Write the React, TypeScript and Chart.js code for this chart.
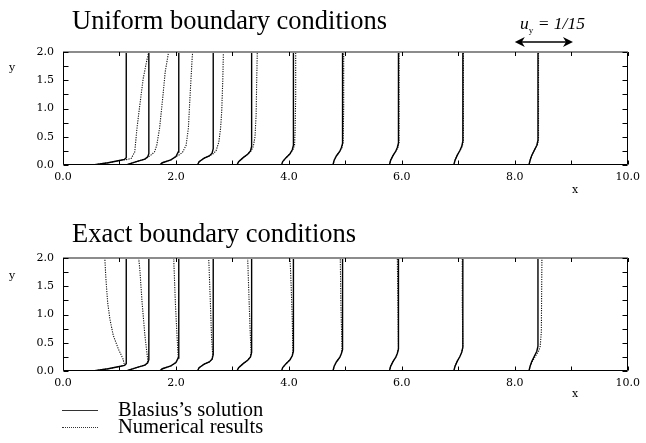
import React, { useEffect, useRef } from "react";
import { Chart, registerables } from "chart.js";
Chart.register(...registerables);

// ---- axes ----
const xLabelTicks = [0, 2, 4, 6, 8, 10];
const yLabelTicks = [0, 0.5, 1.0, 1.5, 2.0];
const xMinorTicks = [0, 1, 2, 3, 4, 5, 6, 7, 8, 9, 10];
const yMinorTicks = [0, 0.25, 0.5, 0.75, 1.0, 1.25, 1.5, 1.75, 2.0];
const arrowSpan = [8.0, 9.03];

// ---- Blasius's solution (solid), [x, y] ----
const blasius1 = [[0.53, 0], [0.8, 0.04], [1.0, 0.08], [1.09, 0.1], [1.12, 0.13], [1.12, 2.0]];
const blasius2 = [[1.12, 0], [1.3, 0.06], [1.45, 0.105], [1.5, 0.145], [1.52, 0.2], [1.52, 2.0]];
const blasius3 = [[1.71, 0], [1.76, 0.04], [1.91, 0.09], [2.0, 0.15], [2.04, 0.23], [2.05, 2.0]];
const blasius4 = [[2.38, 0], [2.41, 0.06], [2.5, 0.12], [2.59, 0.16], [2.64, 0.21], [2.66, 0.29], [2.66, 2.0]];
const blasius5 = [[3.08, 0], [3.11, 0.06], [3.19, 0.13], [3.27, 0.19], [3.32, 0.25], [3.34, 0.33], [3.34, 2.0]];
const blasius6 = [[3.87, 0], [3.89, 0.06], [3.95, 0.13], [4.02, 0.2], [4.06, 0.27], [4.08, 0.35], [4.08, 2.0]];
const blasius7 = [[4.78, 0], [4.8, 0.08], [4.84, 0.16], [4.9, 0.24], [4.93, 0.31], [4.95, 0.38], [4.95, 2.0]];
const blasius8 = [[5.78, 0], [5.8, 0.08], [5.84, 0.16], [5.89, 0.24], [5.92, 0.31], [5.94, 0.39], [5.94, 2.0]];
const blasius9 = [[6.92, 0], [6.94, 0.08], [6.98, 0.17], [7.03, 0.26], [7.06, 0.33], [7.08, 0.42], [7.08, 2.0]];
const blasius10 = [[8.25, 0], [8.27, 0.08], [8.3, 0.17], [8.35, 0.27], [8.39, 0.35], [8.41, 0.44], [8.41, 2.0]];

// ---- Numerical results, uniform boundary conditions (dotted) ----
const uniform1 = [[0.53, 0], [0.8, 0.04], [1.0, 0.08], [1.15, 0.1], [1.21, 0.12], [1.27, 0.23], [1.31, 0.65], [1.36, 1.06], [1.42, 1.53], [1.49, 1.88], [1.52, 2.0]];
const uniform2 = [[1.12, 0], [1.3, 0.06], [1.45, 0.105], [1.52, 0.15], [1.56, 0.18], [1.62, 0.23], [1.66, 0.35], [1.71, 0.65], [1.77, 1.23], [1.81, 1.65], [1.86, 1.94], [1.87, 2.0]];
const uniform3 = [[1.71, 0], [1.76, 0.04], [1.91, 0.09], [2.0, 0.15], [2.06, 0.18], [2.12, 0.23], [2.18, 0.35], [2.22, 0.65], [2.25, 1.23], [2.29, 1.94], [2.3, 2.0]];
const uniform4 = [[2.38, 0], [2.41, 0.06], [2.5, 0.12], [2.59, 0.16], [2.66, 0.2], [2.71, 0.25], [2.76, 0.41], [2.79, 0.65], [2.81, 0.94], [2.83, 1.53], [2.84, 2.0]];
const uniform5 = [[3.08, 0], [3.11, 0.06], [3.19, 0.13], [3.27, 0.19], [3.33, 0.25], [3.37, 0.33], [3.4, 0.5], [3.42, 0.9], [3.43, 1.5], [3.44, 2.0]];
const uniform6 = [[3.87, 0], [3.89, 0.06], [3.95, 0.13], [4.02, 0.2], [4.07, 0.27], [4.1, 0.35], [4.11, 0.6], [4.12, 1.2], [4.12, 2.0]];
const uniform7 = [[4.78, 0], [4.8, 0.08], [4.84, 0.16], [4.9, 0.24], [4.94, 0.31], [4.96, 0.4], [4.97, 1.0], [4.97, 2.0]];
const uniform8 = [[5.78, 0], [5.8, 0.08], [5.84, 0.16], [5.89, 0.24], [5.93, 0.31], [5.95, 0.4], [5.95, 2.0]];
const uniform9 = [[6.92, 0], [6.94, 0.08], [6.98, 0.17], [7.03, 0.26], [7.07, 0.33], [7.09, 0.43], [7.09, 2.0]];
const uniform10 = [[8.25, 0], [8.27, 0.08], [8.3, 0.17], [8.35, 0.27], [8.4, 0.35], [8.42, 0.45], [8.42, 2.0]];

// ---- Numerical results, exact boundary conditions (dotted) ----
const exact1 = [[0.53, 0], [0.8, 0.04], [1.0, 0.08], [1.09, 0.1], [1.06, 0.22], [0.98, 0.39], [0.89, 0.63], [0.83, 0.92], [0.79, 1.22], [0.76, 1.63], [0.74, 2.0]];
const exact2 = [[1.12, 0], [1.3, 0.06], [1.45, 0.105], [1.5, 0.145], [1.5, 0.2], [1.45, 0.63], [1.4, 1.22], [1.36, 1.8], [1.34, 2.0]];
const exact3 = [[1.71, 0], [1.76, 0.04], [1.91, 0.09], [2.0, 0.15], [2.04, 0.23], [2.02, 0.6], [1.99, 1.2], [1.96, 2.0]];
const exact4 = [[2.38, 0], [2.41, 0.06], [2.5, 0.12], [2.59, 0.16], [2.64, 0.21], [2.65, 0.29], [2.63, 0.6], [2.61, 1.2], [2.58, 2.0]];
const exact5 = [[3.08, 0], [3.11, 0.06], [3.19, 0.13], [3.27, 0.19], [3.32, 0.25], [3.33, 0.33], [3.31, 0.8], [3.29, 1.4], [3.27, 2.0]];
const exact6 = [[3.87, 0], [3.89, 0.06], [3.95, 0.13], [4.02, 0.2], [4.06, 0.27], [4.07, 0.35], [4.06, 0.9], [4.04, 1.5], [4.02, 2.0]];
const exact7 = [[4.78, 0], [4.8, 0.08], [4.84, 0.16], [4.9, 0.24], [4.93, 0.31], [4.94, 0.4], [4.92, 1.2], [4.91, 2.0]];
const exact8 = [[5.78, 0], [5.8, 0.08], [5.84, 0.16], [5.89, 0.24], [5.92, 0.31], [5.94, 0.39], [5.93, 1.2], [5.92, 2.0]];
const exact9 = [[6.92, 0], [6.94, 0.08], [6.98, 0.17], [7.03, 0.26], [7.06, 0.33], [7.08, 0.42], [7.07, 1.2], [7.07, 2.0]];
const exact10 = [[8.25, 0], [8.27, 0.08], [8.31, 0.17], [8.37, 0.27], [8.42, 0.35], [8.45, 0.44], [8.47, 0.7], [8.48, 2.0]];

const blasiusCurves = [blasius1, blasius2, blasius3, blasius4, blasius5, blasius6, blasius7, blasius8, blasius9, blasius10];
const uniformCurves = [uniform1, uniform2, uniform3, uniform4, uniform5, uniform6, uniform7, uniform8, uniform9, uniform10];
const exactCurves = [exact1, exact2, exact3, exact4, exact5, exact6, exact7, exact8, exact9, exact10];

const TICK_FONT = { family: "DejaVu Serif", size: 11 };

function makeDatasets(dotted: number[][][]) {
  const ds: any[] = [];
  blasiusCurves.forEach((c, i) =>
    ds.push({
      label: i === 0 ? "Blasius\u2019s solution" : "",
      data: c.map(([x, y]) => ({ x, y })),
      showLine: true,
      borderColor: "#000",
      borderWidth: 1.4,
      pointRadius: 0,
      tension: 0,
    })
  );
  dotted.forEach((c, i) =>
    ds.push({
      label: i === 0 ? "Numerical results" : "",
      data: c.map(([x, y]) => ({ x, y })),
      showLine: true,
      borderColor: "#111",
      borderWidth: 1.1,
      borderDash: [1.2, 1.2],
      pointRadius: 0,
      tension: 0,
    })
  );
  return ds;
}

const framePlugin = {
  id: "frame",
  afterDraw(chart: any) {
    const { ctx, chartArea: a, scales } = chart;
    const xs = scales.x;
    const ys = scales.y;
    const L = Math.round(a.left) + 0.5;
    const R = Math.round(a.right) - 0.5;
    const B = Math.round(a.bottom) - 0.5;
    const T = Math.round(a.top);
    ctx.save();
    ctx.setLineDash([]);
    ctx.strokeStyle = "#000";
    ctx.lineWidth = 1;
    ctx.beginPath();
    ctx.moveTo(L, T);
    ctx.lineTo(L, B);
    ctx.lineTo(R, B);
    ctx.lineTo(R, T);
    ctx.stroke();
    ctx.strokeStyle = "#8c8c8c";
    ctx.lineWidth = 2;
    ctx.beginPath();
    ctx.moveTo(L - 0.5, T);
    ctx.lineTo(R + 0.5, T);
    ctx.stroke();
    ctx.strokeStyle = "#000";
    ctx.lineWidth = 1;
    ctx.beginPath();
    for (const v of xMinorTicks) {
      const px = Math.round(xs.getPixelForValue(v)) + 0.5;
      ctx.moveTo(px, B);
      ctx.lineTo(px, B - 4);
      ctx.moveTo(px, T);
      ctx.lineTo(px, T + 4);
    }
    for (const v of yMinorTicks) {
      const py = Math.round(ys.getPixelForValue(v)) + 0.5;
      ctx.moveTo(L, py);
      ctx.lineTo(L + 5, py);
      ctx.moveTo(R, py);
      ctx.lineTo(R - 5, py);
    }
    ctx.stroke();
    if (chart.options.plugins.frame && chart.options.plugins.frame.arrow) {
      const x1 = xs.getPixelForValue(arrowSpan[0]);
      const x2 = xs.getPixelForValue(arrowSpan[1]);
      const y = a.top - 10;
      ctx.lineWidth = 1.4;
      ctx.beginPath();
      ctx.moveTo(x1 + 6, y);
      ctx.lineTo(x2 - 6, y);
      ctx.stroke();
      ctx.fillStyle = "#000";
      ctx.beginPath();
      ctx.moveTo(x1, y);
      ctx.lineTo(x1 + 10, y - 5);
      ctx.lineTo(x1 + 7, y);
      ctx.lineTo(x1 + 10, y + 5);
      ctx.closePath();
      ctx.fill();
      ctx.beginPath();
      ctx.moveTo(x2, y);
      ctx.lineTo(x2 - 10, y - 5);
      ctx.lineTo(x2 - 7, y);
      ctx.lineTo(x2 - 10, y + 5);
      ctx.closePath();
      ctx.fill();
    }
    ctx.restore();
  },
};

function Panel({ dotted, height, padBottom, arrow }: { dotted: number[][][]; height: number; padBottom: number; arrow: boolean }) {
  const ref = useRef<HTMLCanvasElement | null>(null);
  useEffect(() => {
    if (!ref.current) return;
    const chart = new Chart(ref.current, {
      type: "scatter",
      data: { datasets: makeDatasets(dotted) },
      options: {
        responsive: false,
        animation: false,
        devicePixelRatio: 1,
        layout: { padding: { left: 0, right: 14, top: 52, bottom: padBottom } },
        plugins: {
          legend: { display: false },
          tooltip: { enabled: false },
          frame: { arrow },
        } as any,
        scales: {
          x: {
            type: "linear",
            min: 0,
            max: 10,
            grid: { display: false, drawTicks: false },
            border: { display: false },
            afterBuildTicks: (axis: any) => {
              axis.ticks = xLabelTicks.map((v) => ({ value: v }));
            },
            afterFit: (axis: any) => {
              axis.height = 30;
            },
            ticks: {
              padding: 6,
              maxRotation: 0,
              autoSkip: false,
              color: "#000",
              font: TICK_FONT,
              callback: (v: any) => Number(v).toFixed(1),
            },
          },
          y: {
            type: "linear",
            min: 0,
            max: 2,
            grid: { display: false, drawTicks: false },
            border: { display: false },
            afterBuildTicks: (axis: any) => {
              axis.ticks = yLabelTicks.map((v) => ({ value: v }));
            },
            afterFit: (axis: any) => {
              axis.width = 63;
            },
            ticks: {
              padding: 9,
              autoSkip: false,
              color: "#000",
              font: TICK_FONT,
              callback: (v: any) => Number(v).toFixed(1),
            },
          },
        },
      },
      plugins: [framePlugin],
    });
    return () => chart.destroy();
  }, []);
  return <canvas ref={ref} width={646} height={height} style={{ display: "block", width: 646, height }} />;
}

const serif = "'Liberation Serif', 'Times New Roman', serif";
const tickSerif = "'DejaVu Serif', serif";

function Text({ left, top, size, children, style }: any) {
  return (
    <div
      style={{
        position: "absolute",
        left,
        top,
        fontSize: size,
        lineHeight: `${size}px`,
        fontFamily: serif,
        color: "#000",
        whiteSpace: "nowrap",
        ...style,
      }}
    >
      {children}
    </div>
  );
}

export default function App() {
  return (
    <div style={{ position: "absolute", left: 0, top: 0, width: 646, height: 443, background: "#fff", overflow: "hidden" }}>
      <div style={{ position: "absolute", left: 0, top: 0 }}>
        <Panel dotted={uniformCurves} height={206} padBottom={11} arrow={true} />
      </div>
      <div style={{ position: "absolute", left: 0, top: 206 }}>
        <Panel dotted={exactCurves} height={237} padBottom={42} arrow={false} />
      </div>

      <Text left={72} top={7} size={26.5}>Uniform boundary conditions</Text>
      <Text left={72} top={220} size={26.5}>Exact boundary conditions</Text>

      <Text left={520} top={15} size={17.5} style={{ fontStyle: "italic" }}>
        u<span style={{ fontSize: 9, fontStyle: "normal", position: "relative", top: 4 }}>y</span> = 1/15
      </Text>

      <Text left={9} top={62} size={11} style={{ fontFamily: tickSerif }}>y</Text>
      <Text left={9} top={270} size={11} style={{ fontFamily: tickSerif }}>y</Text>
      <Text left={572} top={184} size={11} style={{ fontFamily: tickSerif }}>x</Text>
      <Text left={572} top={388} size={11} style={{ fontFamily: tickSerif }}>x</Text>

      <div style={{ position: "absolute", left: 62, top: 410, width: 36, borderTop: "1px solid #333" }} />
      <div style={{ position: "absolute", left: 62, top: 427, width: 36, borderTop: "1px dotted #333" }} />
      <Text left={118} top={399} size={20.5}>Blasius’s solution</Text>
      <Text left={118} top={416} size={20.5}>Numerical results</Text>
    </div>
  );
}
